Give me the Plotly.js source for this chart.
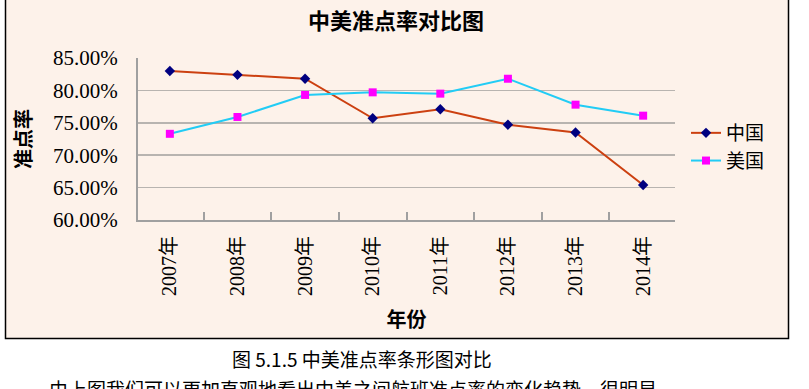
<!DOCTYPE html>
<html>
<head>
<meta charset="utf-8">
<script src="https://cdn.plot.ly/plotly-3.0.1.min.js"></script>
<style>
  html, body { margin: 0; padding: 0; background: #ffffff; }
  #chart { width: 809px; height: 389px; }
</style>
</head>
<body>
<div id="chart"></div>
<script>
// ---- data ----
const years = ["2007年", "2008年", "2009年", "2010年", "2011年", "2012年", "2013年", "2014年"];
const chinaRate = [83.0, 82.4, 81.8, 75.7, 77.1, 74.7, 73.5, 65.4];
const usaRate = [73.3, 75.9, 79.3, 79.7, 79.5, 81.8, 77.8, 76.1];
const yTickVals = [60, 65, 70, 75, 80, 85];
const yTickText = ["60.00%", "65.00%", "70.00%", "75.00%", "80.00%", "85.00%"];
const seriesNames = ["中国", "美国"];
const chartTitle = "中美准点率对比图";
const xTitle = "年份";
const yTitle = "准点率";
const caption1 = "图 5.1.5 中美准点率条形图对比";
const caption2 = "由上图我们可以更加直观地看出中美之间航班准点率的变化趋势，很明显";

// ---- layout geometry (pixels) ----
const W = 809, H = 389;
const plotL = 138, plotR = 675, plotT = 58, plotB = 220;
const pw = plotR - plotL, ph = plotB - plotT;
const px = x => (x - plotL) / pw;
const py = y => (plotB - y) / ph;

const serif = "'Liberation Serif', 'Noto Sans CJK SC', serif";
const cjk = "'Noto Sans CJK SC', 'Liberation Serif', sans-serif";
const bg = "#FDF2EA";

const traces = [
  {
    x: years, y: chinaRate, name: seriesNames[0], type: "scatter", mode: "lines+markers",
    line: { color: "#CC4010", width: 2 },
    marker: { symbol: "diamond", color: "#000080", size: 8 }
  },
  {
    x: years, y: usaRate, name: seriesNames[1], type: "scatter", mode: "lines+markers",
    line: { color: "#22CCF5", width: 2 },
    marker: { symbol: "square", color: "#FF00FF", size: 8 }
  }
];

const layout = {
  width: W, height: H,
  margin: { l: plotL, r: W - plotR, t: plotT, b: H - plotB, pad: 0 },
  paper_bgcolor: "#ffffff",
  plot_bgcolor: bg,
  showlegend: true,
  title: {
    text: "<b>" + chartTitle + "</b>",
    font: { family: cjk, size: 22, color: "#000000" },
    x: px(396), xref: "paper", xanchor: "center",
    y: 1 - 21 / H, yref: "container", yanchor: "middle"
  },
  xaxis: {
    type: "category",
    tickson: "boundaries",
    ticks: "inside", ticklen: 8, tickcolor: "#A0A0A0", tickwidth: 2,
    showline: true, linecolor: "#A0A0A0", linewidth: 2,
    showgrid: false, zeroline: false,
    tickangle: -90,
    tickfont: { family: serif, size: 20, color: "#000000" },
    ticklabelstandoff: 6,
    title: { text: "<b>" + xTitle + "</b>", font: { family: cjk, size: 20, color: "#000000" }, standoff: 18 },
    fixedrange: true
  },
  yaxis: {
    range: [60, 85],
    tickvals: yTickVals, ticktext: yTickText,
    tickfont: { family: serif, size: 21, color: "#000000" },
    ticks: "", ticklabelstandoff: 14,
    showline: true, linecolor: "#A0A0A0", linewidth: 2,
    showgrid: true, gridcolor: "#B8B4B0", gridwidth: 1.5,
    zeroline: false,
    title: { text: "<b>" + yTitle + "</b>", font: { family: cjk, size: 20, color: "#000000" }, standoff: 16 },
    fixedrange: true
  },
  legend: {
    x: px(686), y: py(114), xanchor: "left", yanchor: "top",
    bgcolor: "rgba(0,0,0,0)",
    font: { family: cjk, size: 19, color: "#000000" },
    tracegroupgap: 0, itemwidth: 30
  },
  shapes: [
    {
      type: "rect", xref: "paper", yref: "paper", layer: "below",
      x0: px(5.5), x1: px(788.5), y0: py(338.5), y1: py(-3),
      line: { color: "#000000", width: 1.5 },
      fillcolor: bg
    }
  ],
  annotations: [
    {
      text: caption1, xref: "paper", yref: "paper", showarrow: false,
      x: px(362), y: py(358), xanchor: "center", yanchor: "middle",
      font: { family: cjk, size: 19, color: "#000000" }
    },
    {
      text: caption2, xref: "paper", yref: "paper", showarrow: false,
      x: px(47), y: py(389), xanchor: "left", yanchor: "middle",
      font: { family: cjk, size: 19, color: "#000000" }
    }
  ]
};

Plotly.newPlot("chart", traces, layout, { staticPlot: true, displayModeBar: false });
</script>
</body>
</html>
